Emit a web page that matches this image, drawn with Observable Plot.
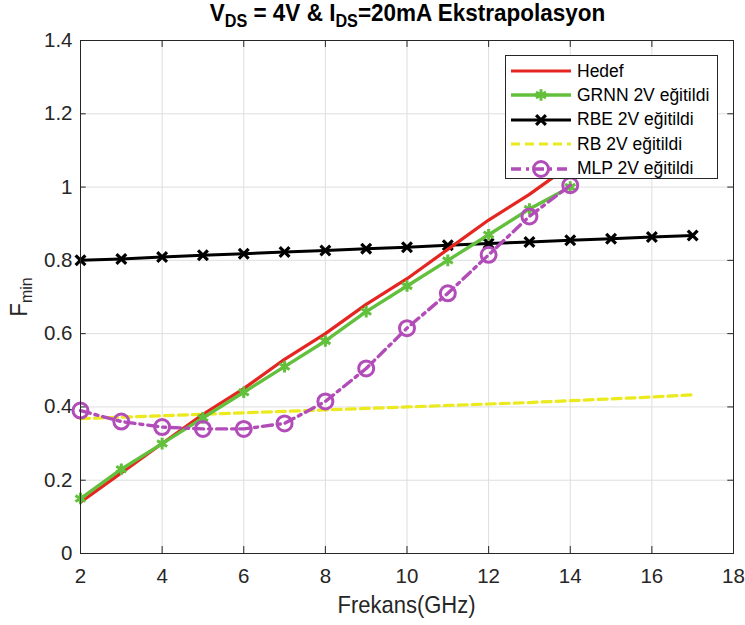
<!DOCTYPE html>
<html>
<head>
<meta charset="utf-8">
<script src="https://cdn.jsdelivr.net/npm/d3@7"></script>
<script src="https://cdn.jsdelivr.net/npm/@observablehq/plot@0.6"></script>
<style>
  html, body { margin: 0; padding: 0; background: #fff; }
  #wrap { position: relative; width: 745px; height: 625px; font-family: "Liberation Sans", Arial, sans-serif; color: #262626; }
  #title { position: relative; z-index: 2; height: 20px; text-align: center; font-weight: bold; font-size: 22.5px; line-height: 24px; padding-left: 70px; color: #000; white-space: nowrap; transform: scaleY(1.08); transform-origin: 50% 0; }
  #title sub { font-size: 0.72em; vertical-align: -0.38em; line-height: 0; }
  #chart svg { display: block; }
  #xlabel { position: absolute; left: 80px; width: 653px; top: 592px; text-align: center; font-size: 22px; line-height: 26px; transform: scaleY(1.1); }
  #ylabel { position: absolute; left: 19px; top: 297px; transform: translate(-50%, -50%) rotate(-90deg) scaleY(1.1); font-size: 22px; white-space: nowrap; line-height: 26px; }
  #ylabel sub { font-size: 0.72em; vertical-align: -0.3em; line-height: 0; }
  #legend { position: absolute; left: 505px; top: 55px; width: 211px; height: 122px; background: #fff; border: 1px solid #262626; }
  .row { position: absolute; left: 0; height: 24px; display: flex; align-items: center; }
  .row svg { margin-left: 4px; margin-right: 5px; }
  .row span { font-size: 17.5px; color: #000; white-space: nowrap; }
</style>
</head>
<body>
<div id="wrap">
  <div id="title">V<sub>DS</sub> = 4V &amp; I<sub>DS</sub>=20mA Ekstrapolasyon</div>
  <div id="chart"></div>
  <div id="xlabel">Frekans(GHz)</div>
  <div id="ylabel">F<sub>min</sub></div>
  <div id="legend"></div>
</div>
<script>
// ---- data ----
const freqA = [2, 3, 4, 5, 6, 7, 8, 9, 10, 11, 12, 13, 14];
const freqB = [2, 3, 4, 5, 6, 7, 8, 9, 10, 11, 12, 13, 14, 15, 16, 17];
const hedef = [0.14, 0.22, 0.30, 0.38, 0.45, 0.53, 0.60, 0.68, 0.75, 0.83, 0.91, 0.98, 1.06];
const grnn  = [0.15, 0.23, 0.30, 0.37, 0.44, 0.51, 0.58, 0.66, 0.73, 0.80, 0.87, 0.94, 1.00];
const mlp   = [0.39, 0.36, 0.345, 0.34, 0.34, 0.355, 0.415, 0.505, 0.615, 0.71, 0.815, 0.92, 1.005];
const rbe   = [0.800, 0.804, 0.809, 0.814, 0.818, 0.823, 0.827, 0.832, 0.836, 0.841, 0.846, 0.850, 0.855, 0.859, 0.864, 0.868];
const rb    = [0.368, 0.372, 0.376, 0.380, 0.384, 0.388, 0.392, 0.396, 0.400, 0.404, 0.408, 0.412, 0.417, 0.422, 0.427, 0.433];
const xTicks = [2, 4, 6, 8, 10, 12, 14, 16, 18];
const yTicks = [0, 0.2, 0.4, 0.6, 0.8, 1, 1.2, 1.4];
const seriesNames = ["Hedef", "GRNN 2V eğitildi", "RBE 2V eğitildi", "RB 2V eğitildi", "MLP 2V eğitildi"];

const colors = {red: "#e52520", green: "#62c03c", black: "#000000", yellow: "#eaea1e", purple: "#b24cb8"};

const toRows = (xs, ys) => xs.map((x, i) => ({x, y: ys[i]}));
const dHedef = toRows(freqA, hedef);
const dGrnn = toRows(freqA, grnn);
const dMlp = toRows(freqA, mlp);
const dRbe = toRows(freqB, rbe);
const dRb = toRows(freqB, rb);

const chart = Plot.plot({
  width: 745,
  height: 605,
  marginTop: 20,
  marginBottom: 72,
  marginLeft: 80,
  marginRight: 12,
  style: {fontFamily: "'Liberation Sans', Arial, sans-serif", fontSize: "20.5px", color: "#262626", background: "transparent"},
  x: {domain: [2, 18]},
  y: {domain: [0, 1.4]},
  marks: [
    Plot.gridX(xTicks, {stroke: "#dedede", strokeOpacity: 1}),
    Plot.gridY(yTicks, {stroke: "#dedede", strokeOpacity: 1}),
    Plot.axisX({ticks: xTicks, tickSize: 0, tickPadding: 15, label: null, fontSize: 20.5}),
    Plot.axisY({ticks: yTicks, tickSize: 0, tickPadding: 8, label: null, fontSize: 20.5, tickFormat: d => String(d)}),
    // inward tick marks on all four sides
    Plot.ruleX(xTicks, {x: d => d, y1: 0, y2: 0.019, stroke: "#262626"}),
    Plot.ruleX(xTicks, {x: d => d, y1: 1.4, y2: 1.381, stroke: "#262626"}),
    Plot.ruleY(yTicks, {y: d => d, x1: 2, x2: 2.14, stroke: "#262626"}),
    Plot.ruleY(yTicks, {y: d => d, x1: 18, x2: 17.86, stroke: "#262626"}),
    // series
    Plot.line(dRb, {x: "x", y: "y", stroke: colors.yellow, strokeWidth: 3.2, strokeDasharray: "9,5"}),
    Plot.line(dRbe, {x: "x", y: "y", stroke: colors.black, strokeWidth: 3}),
    Plot.dot(dRbe, {x: "x", y: "y", symbol: "times", r: 4.5, stroke: colors.black, strokeWidth: 3.2}),
    Plot.line(dHedef, {x: "x", y: "y", stroke: colors.red, strokeWidth: 3.2}),
    Plot.line(dGrnn, {x: "x", y: "y", stroke: colors.green, strokeWidth: 3.4}),
    Plot.dot(dGrnn, {x: "x", y: "y", symbol: "asterisk", r: 5.5, stroke: colors.green, strokeWidth: 3}),
    Plot.line(dMlp, {x: "x", y: "y", stroke: colors.purple, strokeWidth: 3.4, strokeDasharray: "10,5,3,5"}),
    Plot.dot(dMlp, {x: "x", y: "y", symbol: "circle", r: 7.5, stroke: colors.purple, strokeWidth: 3, fill: "none"}),
    Plot.frame({stroke: "#262626", strokeWidth: 1})
  ]
});
document.getElementById("chart").appendChild(chart);

// ---- legend (HTML, drawn over the axes like MATLAB's opaque legend box) ----
const legendStyles = [
  {color: colors.red, width: 3.2, dash: null, marker: null},
  {color: colors.green, width: 3.4, dash: null, marker: "asterisk"},
  {color: colors.black, width: 3, dash: null, marker: "times"},
  {color: colors.yellow, width: 3.2, dash: "9,5", marker: null},
  {color: colors.purple, width: 3.4, dash: "10,5,3,5", marker: "circle"}
];
const legend = document.getElementById("legend");
seriesNames.forEach((name, i) => {
  const s = legendStyles[i];
  const row = document.createElement("div");
  row.className = "row";
  row.style.top = (3 + i * 24.4) + "px";
  const ns = "http://www.w3.org/2000/svg";
  const svg = document.createElementNS(ns, "svg");
  svg.setAttribute("width", 62); svg.setAttribute("height", 20);
  const line = document.createElementNS(ns, "line");
  line.setAttribute("x1", 1); line.setAttribute("x2", 61);
  line.setAttribute("y1", 10); line.setAttribute("y2", 10);
  line.setAttribute("stroke", s.color); line.setAttribute("stroke-width", s.width);
  if (s.dash) line.setAttribute("stroke-dasharray", s.dash);
  svg.appendChild(line);
  if (s.marker) {
    const sym = s.marker === "circle" ? d3.symbolCircle : s.marker === "times" ? d3.symbolTimes : d3.symbolAsterisk;
    const size = s.marker === "circle" ? Math.PI * 7.5 * 7.5 : s.marker === "times" ? Math.PI * 4.5 * 4.5 : Math.PI * 5.5 * 5.5;
    const p = document.createElementNS(ns, "path");
    p.setAttribute("d", d3.symbol(sym, size)());
    p.setAttribute("transform", "translate(31,10)");
    p.setAttribute("stroke", s.color); p.setAttribute("stroke-width", s.marker === "times" ? 3.2 : 3);
    p.setAttribute("fill", "none");
    svg.appendChild(p);
  }
  const span = document.createElement("span");
  span.textContent = name;
  row.appendChild(svg); row.appendChild(span);
  legend.appendChild(row);
});
</script>
</body>
</html>
